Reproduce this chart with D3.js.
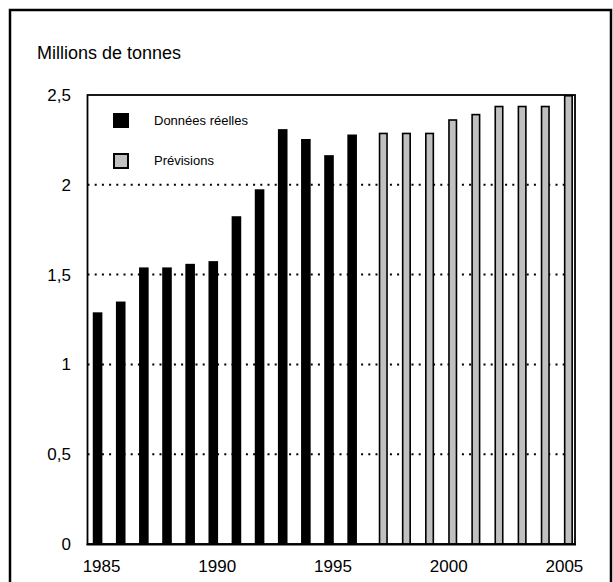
<!DOCTYPE html>
<html><head><meta charset="utf-8">
<script src="https://cdn.jsdelivr.net/npm/d3@7"></script>
<style>html,body{margin:0;padding:0;background:#fff;}svg{display:block;}text{font-family:"Liberation Sans",Arial,sans-serif;fill:#000;}</style>
</head><body>
<svg id="c" width="613" height="582"></svg>
<script>
const years = d3.range(1985, 2006);
const actualYears = [1985,1986,1987,1988,1989,1990,1991,1992,1993,1994,1995,1996];
const actualValues = [1.29,1.35,1.54,1.54,1.56,1.575,1.825,1.975,2.31,2.255,2.165,2.28];
const forecastYears = [1997,1998,1999,2000,2001,2002,2003,2004,2005];
const forecastValues = [2.29,2.29,2.29,2.365,2.395,2.44,2.44,2.44,2.5];
const yTicks = [0,0.5,1,1.5,2,2.5];
const gridTicks = [0.5,1,1.5,2];
const xTickYears = [1985,1990,1995,2000,2005];
const title = "Millions de tonnes";
const legendLabels = ["Données réelles","Prévisions"];

const svg = d3.select("#c");
const fmt = v => String(v).replace(".", ",");
const plot = {l:87.5, r:575, t:95, b:544};

// outer frame
svg.append("rect").attr("x",10).attr("y",10).attr("width",601).attr("height",620)
  .attr("fill","none").attr("stroke","#000").attr("stroke-width",2.5);

const x = d3.scaleBand().domain(years).range([90,576]).padding(0);
const y = d3.scaleLinear().domain([0,2.5]).range([plot.b, plot.t]);

svg.append("text").attr("x",37).attr("y",59).attr("font-size",18).text(title);

// gridlines
svg.append("g").selectAll("line").data(gridTicks).join("line")
  .attr("x1",plot.l).attr("x2",plot.r).attr("y1",d=>y(d)).attr("y2",d=>y(d))
  .attr("stroke","#000").attr("stroke-width",2).attr("stroke-dasharray","2,5.2");

const defs = svg.append("defs");
defs.append("clipPath").attr("id","pc").append("rect")
  .attr("x",plot.l).attr("y",plot.t).attr("width",plot.r-plot.l).attr("height",plot.b-plot.t);

const bars = svg.append("g").attr("clip-path","url(#pc)");
const c = d => x(d) + x.bandwidth()/2;
bars.selectAll("rect.a").data(actualYears.map((yr,i)=>({yr,v:actualValues[i]}))).join("rect")
  .attr("class","a").attr("x",d=>c(d.yr)-4-4.8).attr("width",9.6)
  .attr("y",d=>y(d.v)).attr("height",d=>y(0)-y(d.v)).attr("fill","#000");
bars.selectAll("rect.f").data(forecastYears.map((yr,i)=>({yr,v:forecastValues[i]}))).join("rect")
  .attr("class","f").attr("x",d=>c(d.yr)+4-3.75).attr("width",7.5)
  .attr("y",d=>y(d.v)+0.75).attr("height",d=>y(0)-y(d.v)).attr("fill","#c0c0c0")
  .attr("stroke","#000").attr("stroke-width",1.6);

// plot border
svg.append("rect").attr("x",plot.l).attr("y",plot.t).attr("width",plot.r-plot.l).attr("height",plot.b-plot.t)
  .attr("fill","none").attr("stroke","#000").attr("stroke-width",1.8);
svg.append("line").attr("x1",plot.l-1).attr("x2",plot.r+1).attr("y1",plot.b+0.5).attr("y2",plot.b+0.5)
  .attr("stroke","#000").attr("stroke-width",2.2);

// y labels
svg.append("g").selectAll("text").data(yTicks).join("text")
  .attr("x",71).attr("y",d=>y(d)).attr("dy","0.35em").attr("text-anchor","end")
  .attr("font-size",17).text(fmt);

// x labels
svg.append("g").selectAll("text").data(xTickYears).join("text")
  .attr("x",d=>c(d)).attr("y",572).attr("text-anchor","middle")
  .attr("font-size",17).text(d=>d);

// legend
const lg = svg.append("g");
lg.append("rect").attr("x",113).attr("y",113).attr("width",16).attr("height",15).attr("fill","#000");
lg.append("rect").attr("x",114).attr("y",154).attr("width",14).attr("height",14)
  .attr("fill","#c0c0c0").attr("stroke","#000").attr("stroke-width",2);
lg.append("text").attr("x",154).attr("y",120).attr("dy","0.35em").attr("font-size",13).text(legendLabels[0]);
lg.append("text").attr("x",154).attr("y",160).attr("dy","0.35em").attr("font-size",13).text(legendLabels[1]);
</script>
</body></html>
